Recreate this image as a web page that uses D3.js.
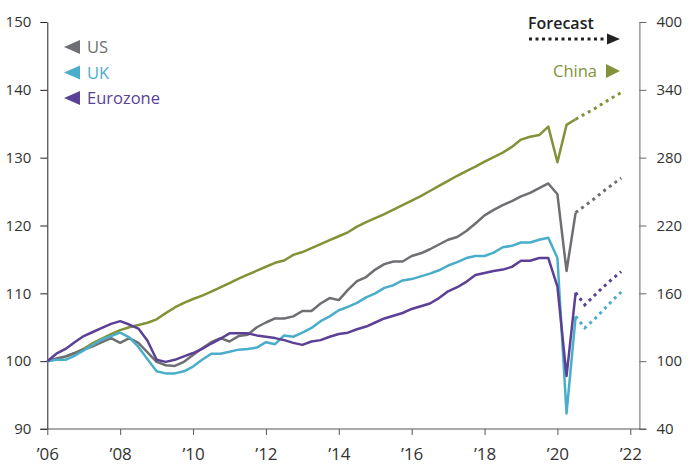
<!DOCTYPE html>
<html>
<head>
<meta charset="utf-8">
<script src="https://cdn.jsdelivr.net/npm/d3@7"></script>
<style>
  body { margin: 0; background: #fff; }
  text { font-family: "Open Sans", "Noto Sans", sans-serif; }
</style>
</head>
<body>
<div id="chart"></div>
<script>
// Quarterly index levels, 2006Q1 = 100 (China on the right axis)
const us = [100, 100.4, 100.7, 101.2, 101.7, 102.2, 102.8, 103.4, 102.7, 103.4,
  102.7, 101.3, 99.9, 99.4, 99.3, 99.9, 100.9, 101.9, 102.8, 103.4,
  102.9, 103.7, 103.9, 105, 105.7, 106.3, 106.3, 106.6, 107.4, 107.4,
  108.5, 109.3, 109, 110.5, 111.8, 112.4, 113.5, 114.3, 114.7, 114.7,
  115.5, 115.9, 116.5, 117.2, 117.9, 118.3, 119.2, 120.3, 121.5, 122.3,
  123, 123.6, 124.3, 124.8, 125.5, 126.2, 124.6, 113.3, 121.9];
const uk = [100, 100.2, 100.2, 100.8, 101.6, 102.4, 103.2, 103.7, 104.2, 103.5,
  102.1, 100.3, 98.5, 98.2, 98.2, 98.5, 99.2, 100.2, 101.1, 101.1,
  101.4, 101.7, 101.8, 102, 102.8, 102.5, 103.8, 103.6, 104.2, 104.9,
  105.9, 106.6, 107.5, 108, 108.6, 109.4, 110, 110.8, 111.2, 111.9,
  112.1, 112.5, 112.9, 113.4, 114.1, 114.6, 115.2, 115.5, 115.5, 116,
  116.8, 117, 117.5, 117.5, 117.9, 118.2, 115.2, 92.3, 106.6];
const eurozone = [100, 101.1, 101.8, 102.8, 103.7, 104.3, 104.9, 105.5, 105.9, 105.4,
  104.8, 103, 100.2, 99.9, 100.2, 100.7, 101.2, 101.8, 102.6, 103.3,
  104.1, 104.1, 104.1, 103.8, 103.6, 103.4, 103.1, 102.7, 102.4, 102.9,
  103.1, 103.6, 104, 104.2, 104.7, 105.1, 105.7, 106.3, 106.7, 107.1,
  107.7, 108.1, 108.5, 109.3, 110.3, 110.9, 111.7, 112.7, 113, 113.3,
  113.5, 113.9, 114.8, 114.8, 115.2, 115.2, 111, 97.8, 110.1];
const china = [100, 102, 104, 107, 111, 116, 120, 124, 127.5, 130,
  132, 134, 137, 142.5, 147.5, 151.5, 155, 158, 161.5, 165.3,
  169, 173, 176.5, 180, 183.5, 187, 189, 194, 196.5, 200,
  203.5, 207, 210.5, 214, 219, 223, 226.5, 230, 234, 238,
  242, 246, 250.5, 255, 259.5, 264, 268, 272, 276.5, 280.5,
  284.5, 289.5, 296, 298.5, 300, 307.5, 276, 309, 314];

// Forecasts, 2020Q3 - 2021Q4
const usForecast = [121.9, 122.9, 123.9, 125, 126, 127];
const ukForecast = [106.6, 104.9, 106.1, 107.5, 108.9, 110.2];
const eurozoneForecast = [110.1, 108.3, 109.6, 110.9, 112.1, 113.2];
const chinaForecast = [314, 318.5, 323, 328, 333, 337.5];

// Quarters as decimal years
const quarters = d3.range(us.length).map((i) => 2006 + i / 4);
const forecastQuarters = d3.range(ukForecast.length).map((i) => 2020.5 + i / 4);

const leftTicks = [90, 100, 110, 120, 130, 140, 150];
const rightTicks = [40, 100, 160, 220, 280, 340, 400];
const yearTicks = [2006, 2008, 2010, 2012, 2014, 2016, 2018, 2020, 2022];

const WIDTH = 688;
const HEIGHT = 475;

const COLORS = {
  us: "#6e6f72",
  uk: "#4aaecb",
  eurozone: "#5b4195",
  china: "#829237",
};

const svg = d3
  .select("#chart")
  .append("svg")
  .attr("width", WIDTH)
  .attr("height", HEIGHT);

// Scales
const x = d3.scaleLinear().domain([2006, 2022]).range([47.3, 630.3]);
const yLeft = d3.scaleLinear().domain([90, 150]).range([429, 22]);
const yRight = d3.scaleLinear().domain([40, 400]).range([429, 22]);

const xRight = x(2022.25);

// Left axis
const gLeft = svg
  .append("g")
  .attr("transform", "translate(" + x(2006) + ",0)")
  .call(d3.axisLeft(yLeft).tickValues(leftTicks).tickSize(7).tickSizeOuter(0));
gLeft.select(".domain").attr("stroke", "#222");
gLeft.selectAll(".tick line").attr("stroke", "#222");
gLeft
  .selectAll(".tick text")
  .attr("x", -16)
  .attr("font-size", 15)
  .attr("fill", "#333");

// Right axis
const gRight = svg
  .append("g")
  .attr("transform", "translate(" + xRight + ",0)")
  .call(d3.axisRight(yRight).tickValues(rightTicks).tickSize(7).tickSizeOuter(0));
gRight.select(".domain").attr("stroke", "#666");
gRight.selectAll(".tick line").attr("stroke", "#666");
gRight
  .selectAll(".tick text")
  .attr("x", 17)
  .attr("font-size", 15)
  .attr("fill", "#333");

// Bottom axis
const gBottom = svg
  .append("g")
  .attr("transform", "translate(0," + yLeft(90) + ")")
  .call(
    d3
      .axisBottom(x)
      .tickValues(yearTicks)
      .tickSize(6)
      .tickSizeOuter(0)
      .tickFormat((d) => "\u2019" + String(d).slice(2))
  );
gBottom.select(".domain").remove();
gBottom.selectAll(".tick line").attr("stroke", "#555");
gBottom
  .selectAll(".tick text")
  .attr("y", 19)
  .attr("font-size", 17)
  .attr("fill", "#333");
gBottom
  .append("line")
  .attr("x1", x(2006) - 7)
  .attr("x2", xRight + 7)
  .attr("stroke", "#555");

// Lines
const lineLeft = d3
  .line()
  .x((d) => x(d[0]))
  .y((d) => yLeft(d[1]));
const lineRight = d3
  .line()
  .x((d) => x(d[0]))
  .y((d) => yRight(d[1]));

const series = [
  { key: "china", data: china, forecast: chinaForecast, line: lineRight },
  { key: "us", data: us, forecast: usForecast, line: lineLeft },
  { key: "uk", data: uk, forecast: ukForecast, line: lineLeft },
  { key: "eurozone", data: eurozone, forecast: eurozoneForecast, line: lineLeft },
];

series.forEach((s) => {
  svg
    .append("path")
    .datum(quarters.map((q, i) => [q, s.data[i]]))
    .attr("d", s.line)
    .attr("fill", "none")
    .attr("stroke", COLORS[s.key])
    .attr("stroke-width", 2.5)
    .attr("stroke-linejoin", "round");

  svg
    .append("path")
    .datum(forecastQuarters.map((q, i) => [q, s.forecast[i]]))
    .attr("d", s.line)
    .attr("fill", "none")
    .attr("stroke", COLORS[s.key])
    .attr("stroke-width", 3)
    .attr("stroke-dasharray", "3,4");
});

// Legend (left axis series)
const legend = [
  { label: "US", key: "us" },
  { label: "UK", key: "uk" },
  { label: "Eurozone", key: "eurozone" },
];

legend.forEach((d, i) => {
  const cy = 47 + i * 25.5;
  svg
    .append("path")
    .attr("d", "M64," + cy + "L80," + (cy - 7) + "L80," + (cy + 7) + "Z")
    .attr("fill", COLORS[d.key]);
  svg
    .append("text")
    .attr("x", 87)
    .attr("y", cy + 6)
    .attr("font-size", 16.5)
    .attr("fill", COLORS[d.key])
    .text(d.label);
});

// China label (right axis)
svg
  .append("text")
  .attr("x", 597)
  .attr("y", 77)
  .attr("text-anchor", "end")
  .attr("font-size", 16.5)
  .attr("fill", COLORS.china)
  .text("China");
svg
  .append("path")
  .attr("d", "M620,71L606,64L606,78Z")
  .attr("fill", COLORS.china);

// Forecast key
svg
  .append("text")
  .attr("x", 528)
  .attr("y", 29)
  .attr("font-size", 16)
  .attr("font-weight", 600)
  .attr("fill", "#222")
  .text("Forecast");
svg
  .append("line")
  .attr("x1", 529)
  .attr("x2", 607)
  .attr("y1", 39)
  .attr("y2", 39)
  .attr("stroke", "#222")
  .attr("stroke-width", 3)
  .attr("stroke-dasharray", "3,3.5");
svg
  .append("path")
  .attr("d", "M620,39L607,33.5L607,44.5Z")
  .attr("fill", "#222");
</script>
</body>
</html>
